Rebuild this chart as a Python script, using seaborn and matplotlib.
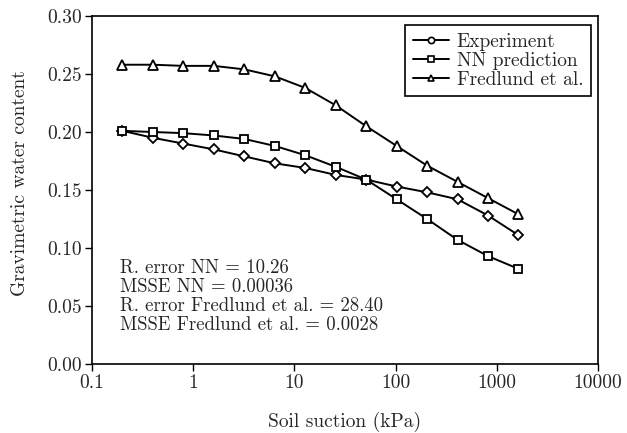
import matplotlib
matplotlib.use("Agg")
import matplotlib.pyplot as plt
from matplotlib.lines import Line2D
import seaborn as sns
import pandas as pd

suction = [0.2, 0.4, 0.8, 1.6, 3.2, 6.4, 12.8, 25.6, 51.2, 102.4, 204.8, 409.6, 819.2, 1638.4]
experiment = [0.201, 0.195, 0.190, 0.185, 0.179, 0.173, 0.169, 0.163, 0.159, 0.153, 0.148, 0.142, 0.128, 0.111]
nn_prediction = [0.201, 0.200, 0.199, 0.197, 0.194, 0.188, 0.180, 0.170, 0.159, 0.142, 0.125, 0.107, 0.093, 0.082]
fredlund = [0.258, 0.258, 0.257, 0.257, 0.254, 0.248, 0.238, 0.223, 0.205, 0.188, 0.171, 0.157, 0.143, 0.129]
series_names = ["Experiment", "NN prediction", "Fredlund et al."]
x_ticks = [0.1, 1, 10, 100, 1000, 10000]
x_ticklabels = ["0.1", "1", "10", "100", "1000", "10000"]
y_ticks = [0.0, 0.05, 0.10, 0.15, 0.20, 0.25, 0.30]
y_ticklabels = ["0.00", "0.05", "0.10", "0.15", "0.20", "0.25", "0.30"]
stats_text = ["R. error NN = 10.26", "MSSE NN = 0.00036",
              "R. error Fredlund et al. = 28.40", "MSSE Fredlund et al. = 0.0028"]

sns.set_style("ticks")
plt.rcParams["font.family"] = ["cmr10", "DejaVu Serif"]
plt.rcParams["axes.formatter.use_mathtext"] = True

df = pd.DataFrame({
    "suction": suction * 3,
    "water": experiment + nn_prediction + fredlund,
    "series": [n for n in series_names for _ in suction],
})

fig = plt.figure(figsize=(6.27, 4.33), dpi=100)
ax = fig.add_axes([92 / 627, 1 - 364 / 433, (598 - 92) / 627, (364 - 16) / 433])

markers = {"Experiment": "D", "NN prediction": "s", "Fredlund et al.": "^"}
sizes = {"Experiment": 5, "NN prediction": 5.5, "Fredlund et al.": 6.5}
for name in series_names:
    sub = df[df["series"] == name]
    sns.lineplot(data=sub, x="suction", y="water", ax=ax, color="black", lw=1.4,
                 marker=markers[name], markersize=sizes[name], markerfacecolor="white",
                 markeredgecolor="black", markeredgewidth=1.3, legend=False)

ax.set_xscale("log")
ax.set_xlim(0.1, 10000)
ax.set_ylim(0, 0.30)
ax.set_xticks(x_ticks)
ax.set_xticklabels(x_ticklabels)
ax.minorticks_off()
ax.set_yticks(y_ticks)
ax.set_yticklabels(y_ticklabels)
ax.tick_params(direction="out", length=5, width=1, labelsize=14, color="black", pad=2.5)
for s in ax.spines.values():
    s.set_linewidth(1.2)
    s.set_color("black")

ax.set_xlabel("Soil suction (kPa)", fontsize=14, va="center")
ax.xaxis.set_label_coords(0.5, -(422 - 364) / 348)
ax.set_ylabel("Gravimetric water content", fontsize=14, va="center")
ax.yaxis.set_label_coords((20 - 92) / 506, 0.52)

leg_markers = {"Experiment": "o", "NN prediction": "s", "Fredlund et al.": "^"}
handles = [Line2D([], [], color="black", lw=1.4, marker=leg_markers[n], markersize=4.5,
                  markerfacecolor="white", markeredgecolor="black", markeredgewidth=1.2)
           for n in series_names]
leg = ax.legend(handles, series_names, loc="upper right",
                bbox_to_anchor=((591 - 92) / 506, (364 - 25) / 348),
                fontsize=14, frameon=True, fancybox=False, edgecolor="black",
                handlelength=1.85, handletextpad=0.4, borderpad=0.4,
                labelspacing=0.05, borderaxespad=0)
leg.get_frame().set_linewidth(1.2)
leg.get_frame().set_alpha(1)

for i, t in enumerate(stats_text):
    ax.text((120 - 92) / 506, (364 - 268 - i * 19) / 348, t, transform=ax.transAxes,
            fontsize=13.5, ha="left", va="center")

fig.savefig("out.png", dpi=100)
